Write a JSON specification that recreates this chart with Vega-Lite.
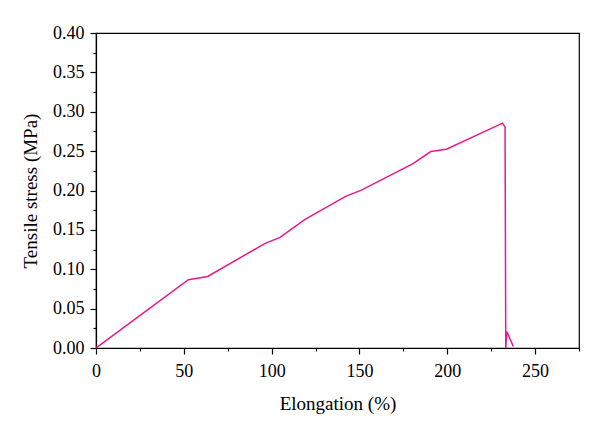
{
  "$schema": "https://vega.github.io/schema/vega-lite/v6.json",
  "width": 483,
  "height": 315,
  "autosize": {"type": "none"},
  "padding": {"left": 96, "top": 33, "right": 21, "bottom": 85},
  "background": "white",
  "config": {
    "view": {"stroke": "black", "strokeWidth": 1.2},
    "axis": {
      "grid": false,
      "domainColor": "black",
      "tickColor": "black",
      "labelColor": "black",
      "titleColor": "black",
      "labelFont": "Liberation Serif",
      "titleFont": "Liberation Serif",
      "labelFontSize": 18,
      "titleFontSize": 19,
      "titleFontWeight": "normal",
      "tickWidth": 1.2,
      "domainWidth": 1.2
    }
  },
  "data": {
    "values": [
      {"order": 1, "elongation": 0, "stress": 0},
      {"order": 2, "elongation": 52.6, "stress": 0.0867},
      {"order": 3, "elongation": 63.6, "stress": 0.0909},
      {"order": 4, "elongation": 96, "stress": 0.1325},
      {"order": 5, "elongation": 104.8, "stress": 0.1405},
      {"order": 6, "elongation": 118.8, "stress": 0.163},
      {"order": 7, "elongation": 142.1, "stress": 0.1925},
      {"order": 8, "elongation": 151.1, "stress": 0.2005},
      {"order": 9, "elongation": 180.5, "stress": 0.234},
      {"order": 10, "elongation": 190.6, "stress": 0.2495},
      {"order": 11, "elongation": 199.5, "stress": 0.2525},
      {"order": 12, "elongation": 231.5, "stress": 0.2855},
      {"order": 13, "elongation": 232.9, "stress": 0.2805},
      {"order": 14, "elongation": 233.3, "stress": 0},
      {"order": 15, "elongation": 233.9, "stress": 0.021},
      {"order": 16, "elongation": 237.6, "stress": 0.002}
    ]
  },
  "layer": [
    {
      "mark": {"type": "line", "color": "#e8198b", "strokeWidth": 1.5, "clip": true},
      "encoding": {
        "order": {"field": "order", "type": "quantitative"},
        "x": {
          "field": "elongation",
          "type": "quantitative",
          "scale": {"domain": [0, 275], "nice": false, "zero": false},
          "axis": {
            "orient": "bottom",
            "title": "Elongation (%)",
            "values": [0, 50, 100, 150, 200, 250],
            "tickSize": 6,
            "labelPadding": 8,
            "titlePadding": 14,
            "labelFlush": false
          }
        },
        "y": {
          "field": "stress",
          "type": "quantitative",
          "scale": {"domain": [0, 0.4], "nice": false},
          "axis": {
            "orient": "left",
            "title": "Tensile stress (MPa)",
            "values": [0, 0.05, 0.1, 0.15, 0.2, 0.25, 0.3, 0.35, 0.4],
            "format": ".2f",
            "tickSize": 6,
            "labelPadding": 6,
            "titlePadding": 12,
            "labelFlush": false
          }
        }
      }
    },
    {
      "mark": {"type": "line", "opacity": 0},
      "encoding": {
        "order": {"field": "order", "type": "quantitative"},
        "x": {
          "field": "elongation",
          "type": "quantitative",
          "axis": {
            "orient": "bottom",
            "title": null,
            "labels": false,
            "domain": false,
            "values": [25, 75, 125, 175, 225, 275],
            "tickSize": 3
          }
        },
        "y": {
          "field": "stress",
          "type": "quantitative",
          "axis": {
            "orient": "left",
            "title": null,
            "labels": false,
            "domain": false,
            "values": [0.025, 0.075, 0.125, 0.175, 0.225, 0.275, 0.325, 0.375],
            "tickSize": 3
          }
        }
      }
    }
  ],
  "resolve": {"axis": {"x": "independent", "y": "independent"}}
}
